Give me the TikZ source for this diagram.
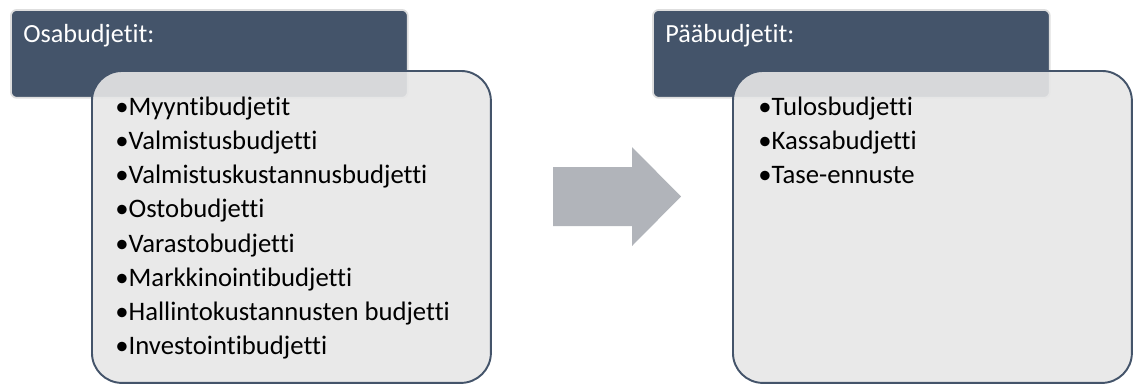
\documentclass[tikz,border=0pt]{standalone}
\usepackage{fontspec}
\setmainfont{Carlito}[Ligatures=NoCommon]
\begin{document}
\begin{tikzpicture}[x=0.02cm,y=-0.02cm]
            \definecolor{head_color}{RGB}{68,84,106}
            \definecolor{box_color}{RGB}{231,231,231}
            \definecolor{arrow_color}{RGB}{177,180,186}
            \definecolor{rim_color}{RGB}{222,222,222}
            \tikzstyle{head} = [draw=rim_color, line width=1pt, fill=head_color, rounded corners=0.12cm, minimum width=7.94cm, minimum height=1.76cm, anchor=north west, inner sep=0pt]
            \tikzstyle{lab} = [text=white, anchor=base west, inner sep=0pt, font=\fontsize{14.9pt}{18pt}\selectfont]
            \tikzstyle{list} = [draw=head_color, line width=1.1pt, fill=box_color, fill opacity=0.9, text opacity=1, rounded corners=0.6cm, minimum width=7.98cm, minimum height=6.24cm, anchor=north west, inner sep=0pt]
            \tikzstyle{item} = [anchor=base west, inner sep=0pt, font=\fontsize{15.2pt}{18pt}\selectfont]
            \useasboundingbox (0,0) rectangle (1133,383);
            % left side
            \node[head] (h0) at (10,9) {};
            \node[lab] (t0) at (23,42) {Osabudjetit:};
            \node[list] (b0) at (91,70) {};
            \node[item] (a1) at (115,115) {•Myyntibudjetit};
            \node[item] (a2) at (115,149) {•Valmistusbudjetti};
            \node[item] (a3) at (115,183) {•Valmistuskustannusbudjetti};
            \node[item] (a4) at (115,217) {•Ostobudjetti};
            \node[item] (a5) at (115,252) {•Varastobudjetti};
            \node[item] (a6) at (115,286) {•Markkinointibudjetti};
            \node[item] (a7) at (115,320) {•Hallintokustannusten budjetti};
            \node[item] (a8) at (115,354) {•Investointibudjetti};
            % right side
            \node[head] (h1) at (652,9) {};
            \node[lab] (t1) at (665,42) {Pääbudjetit:};
            \node[list] (b1) at (732,70) {};
            \node[item] (c1) at (758,115) {•Tulosbudjetti};
            \node[item] (c2) at (758,149) {•Kassabudjetti};
            \node[item] (c3) at (758,183) {•Tase-ennuste};
            % arrow
            \fill[arrow_color] (553,167) -- (632,167) -- (632,147) -- (681,196.5) -- (632,246) -- (632,226) -- (553,226) -- cycle;
        \end{tikzpicture}
\end{document}
